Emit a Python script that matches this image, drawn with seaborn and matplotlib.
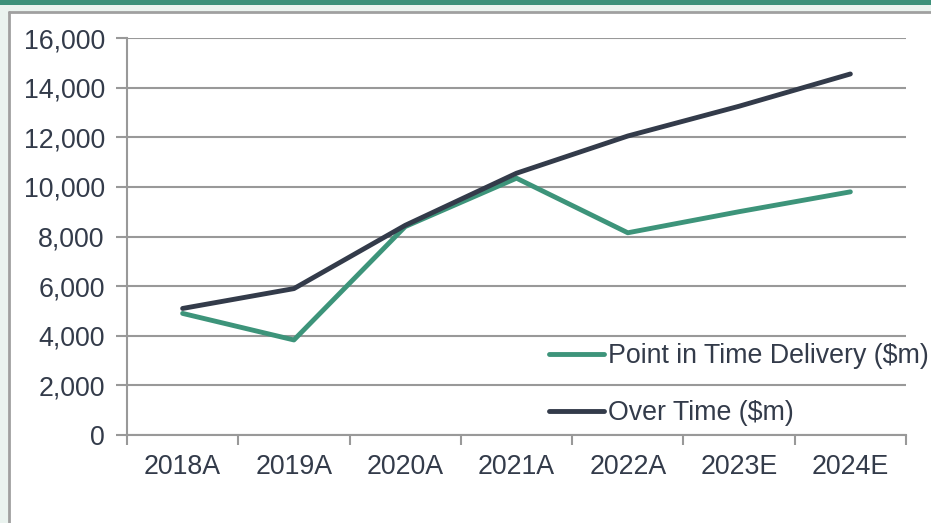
import numpy as np
import pandas as pd
import matplotlib
matplotlib.use("Agg")
import matplotlib.pyplot as plt
from matplotlib.patches import Rectangle
import seaborn as sns

# values
years = ["2018A", "2019A", "2020A", "2021A", "2022A", "2023E", "2024E"]
point_in_time = [4900, 3830, 8400, 10350, 8150, 9000, 9800]
over_time = [5100, 5900, 8450, 10550, 12050, 13250, 14550]
series_names = ["Point in Time Delivery ($m)", "Over Time ($m)"]
series_colors = ["#3d947a", "#333b4a"]

df = pd.DataFrame({
    "year": years * 2,
    "value": point_in_time + over_time,
    "series": [series_names[0]] * len(years) + [series_names[1]] * len(years),
})

sns.set_theme(style="white")
plt.rcParams["font.family"] = ["Liberation Sans", "DejaVu Sans"]

text_col = "#333b4a"
grid_col = "#999999"
fs = 19.3

fig = plt.figure(figsize=(9.31, 5.23), dpi=100)
fig.patch.set_facecolor("#eaf3ef")
# white panel with grey border, green band on top
fig.add_artist(Rectangle((9 / 931, 0), 1, 1 - 13 / 523, transform=fig.transFigure,
                         facecolor="white", edgecolor="none", zorder=0))
fig.add_artist(plt.Line2D([8.5 / 931, 8.5 / 931], [0, 1 - 12 / 523], transform=fig.transFigure,
                          color="#a0a0a0", lw=2, zorder=1))
fig.add_artist(plt.Line2D([8.5 / 931, 1], [1 - 12 / 523, 1 - 12 / 523], transform=fig.transFigure,
                          color="#a0a0a0", lw=2, zorder=1))
fig.add_artist(Rectangle((0, 1 - 5 / 523), 1, 5 / 523, transform=fig.transFigure,
                         facecolor="#3d917a", edgecolor="none", zorder=1))

ax = fig.add_axes([127 / 931, 88 / 523, (906 - 127) / 931, (435 - 38) / 523])
ax.set_facecolor("none")

x_pos = {y: i for i, y in enumerate(years)}
df["x"] = df["year"].map(x_pos)
sns.lineplot(data=df, x="x", y="value", hue="series", palette=series_colors,
             hue_order=series_names, linewidth=3.5, ax=ax, legend=False,
             solid_capstyle="round", zorder=3)

ax.set_xlim(-0.5, len(years) - 0.5)
ax.set_ylim(0, 16000)
ax.set_yticks(np.arange(0, 16001, 2000))
ax.set_yticklabels([f"{v:,}" for v in range(0, 16001, 2000)])
ax.set_xticks(range(len(years)))
ax.set_xticklabels(years)
ax.set_xticks(np.arange(-0.5, len(years), 1), minor=True)
ax.tick_params(axis="x", which="major", length=0, pad=14, labelsize=fs, labelcolor=text_col)
ax.tick_params(axis="x", which="minor", length=7, width=1.5, color=grid_col, direction="out", bottom=True)
ax.tick_params(axis="y", length=8, width=1.5, color=grid_col, direction="out", left=True,
               pad=8, labelsize=fs, labelcolor=text_col)

ax.grid(axis="y", color=grid_col, linewidth=1.5)
ax.set_axisbelow(True)
for side in ["top", "right"]:
    ax.spines[side].set_visible(False)
for side in ["left", "bottom"]:
    ax.spines[side].set_color(grid_col)
    ax.spines[side].set_linewidth(1.5)
ax.set_xlabel("")
ax.set_ylabel("")

handles = [plt.Line2D([], [], color=c, lw=3.5, solid_capstyle="round") for c in series_colors]
leg = fig.legend(handles, series_names, loc="center left",
                 bbox_to_anchor=(549 / 931, 1 - 384.5 / 523), frameon=False,
                 fontsize=fs, handlelength=2.05, handletextpad=0.15, labelspacing=1.15,
                 borderaxespad=0, borderpad=0)
for t in leg.get_texts():
    t.set_color(text_col)

fig.savefig("out.png", dpi=100)
